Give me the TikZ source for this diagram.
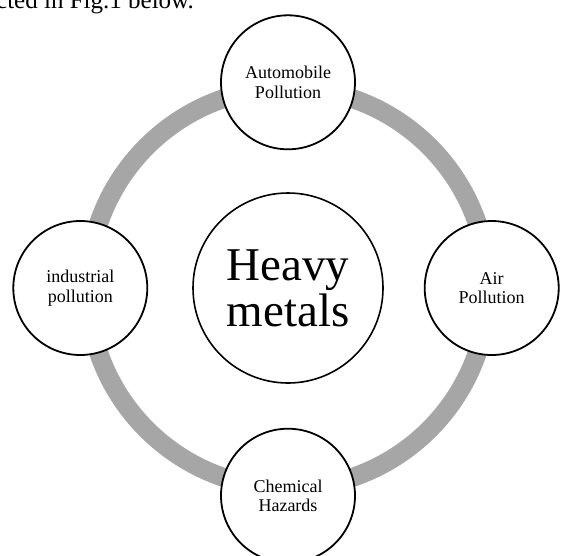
\documentclass[tikz,border=0pt]{standalone}
\usepackage{fontspec}
\setmainfont{Liberation Serif}
\usetikzlibrary{positioning}

\begin{document}
\begin{tikzpicture}[
    x=1pt, y=-1pt,
    node distance=43pt,
    hub/.style={draw=black, line width=1.6pt, circle, fill=white, minimum size=190pt, inner sep=0pt, align=center, font=\fontsize{47}{46}\selectfont},
    source/.style={draw=black, line width=1.8pt, circle, fill=white, minimum size=134pt, inner sep=0pt, align=center, font=\fontsize{18}{19.5}\selectfont},
    ring/.style={draw=black!35, line width=19pt}
]
  \useasboundingbox (0,0) rectangle (561,555);
  \clip (0,0) rectangle (561,555);

  % Caption line cut off at the top
  \node (caption) [anchor=base west, inner sep=0pt, font=\fontsize{25}{28}\selectfont] at (-4,8) {cted in Fig.1 below.};

  % Nodes
  \node (metals) [hub] at (288,288) {Heavy\\metals};
  \draw [ring] (metals.center) circle (200);

  \node (auto) [source, above=of metals, yshift=-1pt] {Automobile\\Pollution};
  \node (air) [source, right=of metals, xshift=-3pt] {Air\\Pollution};
  \node (chem) [source, below=of metals, yshift=-1pt] {Chemical\\Hazards};
  \node (industry) [source, left=of metals, xshift=-1pt] {industrial\\pollution};

\end{tikzpicture}
\end{document}
